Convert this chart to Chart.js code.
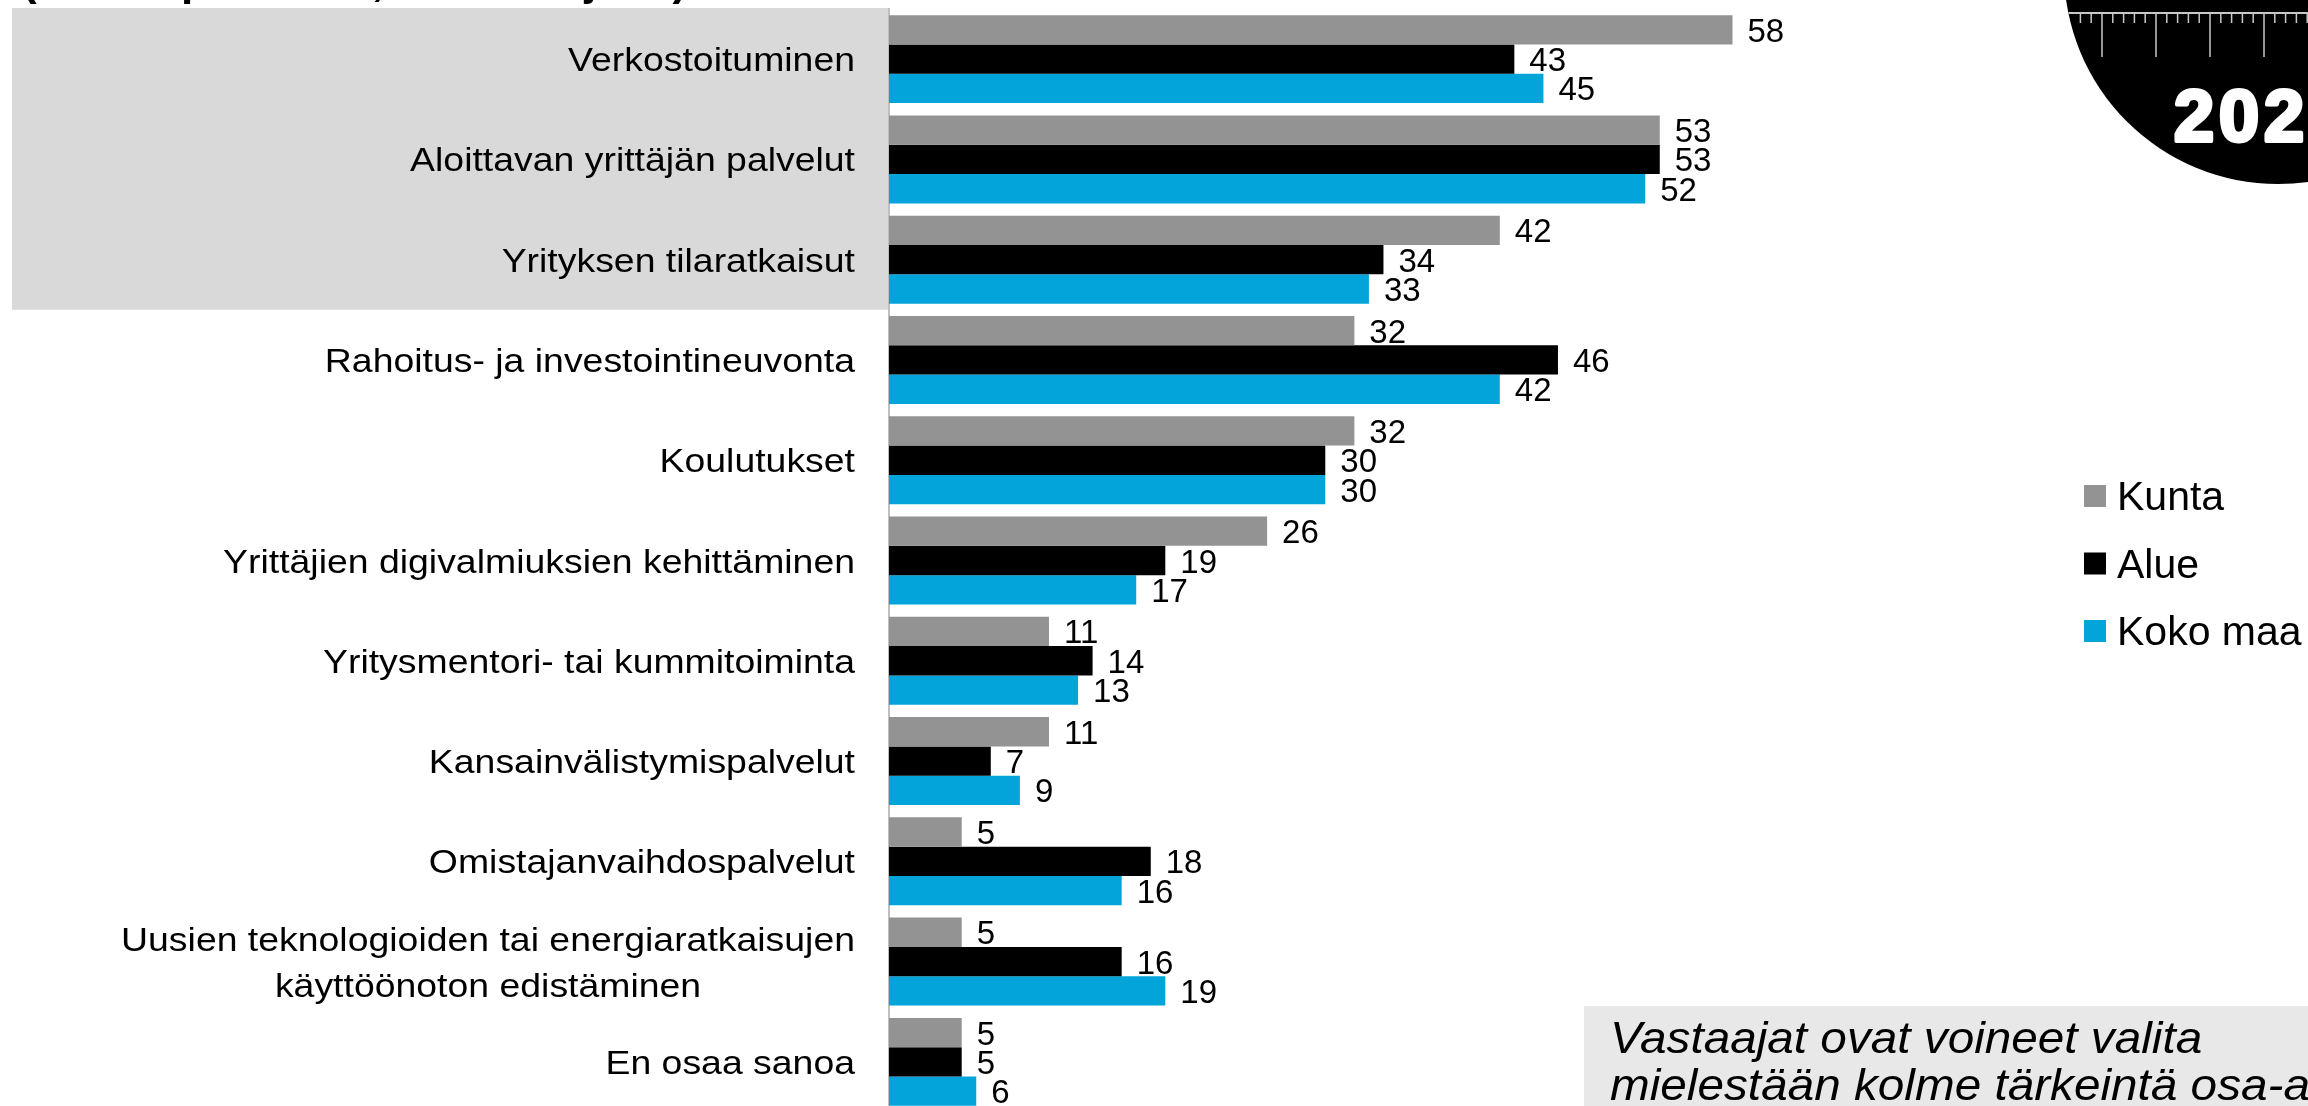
<!DOCTYPE html>
<html>
<head>
<meta charset="utf-8">
<script src="https://cdn.jsdelivr.net/npm/chart.js@4.4.1/dist/chart.umd.min.js"></script>
<style>
    html, body { margin: 0; padding: 0; overflow: hidden; background: #fff; }
    #wrap { position: relative; width: 2308px; height: 1130px; }
</style>
</head>
<body>
<div id="wrap"><canvas id="palvelutChart" width="2308" height="1130"></canvas></div>
<script>
// Categories (one array entry per line of the label)
const categories = [
    ["Verkostoituminen"],
    ["Aloittavan yrittäjän palvelut"],
    ["Yrityksen tilaratkaisut"],
    ["Rahoitus- ja investointineuvonta"],
    ["Koulutukset"],
    ["Yrittäjien digivalmiuksien kehittäminen"],
    ["Yritysmentori- tai kummitoiminta"],
    ["Kansainvälistymispalvelut"],
    ["Omistajanvaihdospalvelut"],
    ["Uusien teknologioiden tai energiaratkaisujen", "käyttöönoton edistäminen"],
    ["En osaa sanoa"]
];

// Series values (%)
const kunta   = [58, 53, 42, 32, 32, 26, 11, 11, 5, 5, 5];
const alue    = [43, 53, 34, 46, 30, 19, 14, 7, 18, 16, 5];
const kokoMaa = [45, 52, 33, 42, 30, 17, 13, 9, 16, 19, 6];

const seriesNames = ["Kunta", "Alue", "Koko maa"];
const seriesColors = ["#939393", "#000000", "#02a4d9"];

const highlightCount = 3; // first rows have the grey box behind the labels
const titleText = "(Useampi valinta, % vastaajista)";
const noteLines = ["Vastaajat ovat voineet valita", "mielestään kolme tärkeintä osa-aluetta."];
const logoText = "2024";

const FONT = "'Liberation Sans', Arial, sans-serif";

// draws text stretched horizontally (the original picture is a bit wider)
function stretchText(ctx, text, x, y, sx) {
    ctx.save();
    ctx.translate(x, y);
    ctx.scale(sx, 1);
    ctx.fillText(text, 0, 0);
    ctx.restore();
}

const decorPlugin = {
    id: "decor",
    beforeDraw(chart) {
        const { ctx, chartArea, scales } = chart;
        const band = (chartArea.bottom - chartArea.top) / categories.length;

        ctx.save();
        ctx.fillStyle = "#ffffff";
        ctx.fillRect(0, 0, chart.width, chart.height);

        // grey box behind the top labels
        const boxTop = scales.y.getPixelForValue(0) - band / 2 - 1;
        const boxBottom = scales.y.getPixelForValue(highlightCount - 1) + band / 2;
        ctx.fillStyle = "#d9d9d9";
        ctx.fillRect(12, boxTop, chartArea.left - 13, boxBottom - boxTop);
        ctx.restore();
    },
    afterDatasetsDraw(chart) {
        const { ctx } = chart;
        ctx.save();
        ctx.fillStyle = "#000";
        ctx.font = "33px " + FONT;
        ctx.textAlign = "left";
        ctx.textBaseline = "alphabetic";
        chart.data.datasets.forEach((ds, i) => {
            chart.getDatasetMeta(i).data.forEach((bar, j) => {
                ctx.fillText(String(ds.data[j]), bar.x + 15, bar.y + 12);
            });
        });
        ctx.restore();
    },
    afterDraw(chart) {
        const { ctx, chartArea, scales } = chart;

        // category labels, lines centred to each other, block right aligned
        ctx.save();
        ctx.fillStyle = "#000";
        ctx.font = "34px " + FONT;
        ctx.textAlign = "left";
        const sx = 1.1;
        const rightX = chartArea.left - 34;
        const lineH = 46;
        categories.forEach((lines, i) => {
            const cy = scales.y.getPixelForValue(i);
            const widths = lines.map((l) => ctx.measureText(l).width * sx);
            const blockW = Math.max(...widths);
            const centerX = rightX - blockW / 2;
            lines.forEach((l, k) => {
                const midY = cy + (k - (lines.length - 1) / 2) * lineH;
                stretchText(ctx, l, centerX - widths[k] / 2, midY + 12, sx);
            });
        });
        ctx.restore();

        // legend
        ctx.save();
        ctx.font = "41px " + FONT;
        seriesNames.forEach((name, i) => {
            const cy = 496 + i * 67.5;
            ctx.fillStyle = seriesColors[i];
            ctx.fillRect(2084, cy - 11, 22, 22);
            ctx.fillStyle = "#000";
            ctx.fillText(name, 2117, cy + 14);
        });
        ctx.restore();

        // note box at the bottom right
        ctx.save();
        ctx.fillStyle = "#e8e8e8";
        ctx.fillRect(1584, 1006, chart.width - 1584, chart.height - 1006);
        ctx.fillStyle = "#000";
        ctx.font = "italic 45px " + FONT;
        noteLines.forEach((l, k) => stretchText(ctx, l, 1610, 1053 + k * 47, 1.06));
        ctx.restore();

        // title, mostly outside the picture
        ctx.save();
        ctx.fillStyle = "#000";
        ctx.font = "bold 44px " + FONT;
        ctx.fillText(titleText, 22, -5);
        ctx.restore();

        // round logo in the top right corner
        ctx.save();
        ctx.beginPath();
        ctx.arc(2278, -30, 214, 0, Math.PI * 2);
        ctx.fillStyle = "#000";
        ctx.fill();
        ctx.clip();
        ctx.strokeStyle = "#c8c8c8";
        ctx.lineWidth = 2;
        ctx.beginPath();
        ctx.moveTo(2040, 13);
        ctx.lineTo(2308, 13);
        ctx.stroke();
        ctx.lineWidth = 1.5;
        for (let k = -2; k < 21; k++) {
            const x = 2102 + k * 10.8;
            ctx.beginPath();
            ctx.moveTo(x, 13);
            ctx.lineTo(x, k % 5 === 0 ? 57 : 23);
            ctx.stroke();
        }
        ctx.fillStyle = "#fff";
        ctx.strokeStyle = "#fff";
        ctx.lineWidth = 4;
        ctx.lineJoin = "round";
        ctx.font = "bold 72px " + FONT;
        ctx.letterSpacing = "5px";
        ctx.fillText(logoText, 2174, 141);
        ctx.strokeText(logoText, 2174, 141);
        ctx.restore();
    }
};

const ctx = document.getElementById("palvelutChart").getContext("2d");

new Chart(ctx, {
    type: "bar",
    data: {
        labels: categories,
        datasets: [
            { label: seriesNames[0], data: kunta, backgroundColor: seriesColors[0] },
            { label: seriesNames[1], data: alue, backgroundColor: seriesColors[1] },
            { label: seriesNames[2], data: kokoMaa, backgroundColor: seriesColors[2] }
        ]
    },
    options: {
        indexAxis: "y",
        responsive: false,
        animation: false,
        devicePixelRatio: 1,
        datasets: {
            bar: {
                barPercentage: 1,
                categoryPercentage: 0.877,
                borderWidth: 0
            }
        },
        layout: {
            padding: { top: 9, bottom: 18, left: 0, right: 401 }
        },
        plugins: {
            legend: { display: false },
            tooltip: { enabled: false }
        },
        scales: {
            x: {
                display: false,
                min: 0,
                max: 70
            },
            y: {
                position: "left",
                grid: { display: false },
                border: { display: true, color: "#bfbfbf", width: 2 },
                ticks: { display: false },
                afterFit(scale) {
                    scale.width = 889;
                }
            }
        }
    },
    plugins: [decorPlugin]
});
</script>
</body>
</html>
